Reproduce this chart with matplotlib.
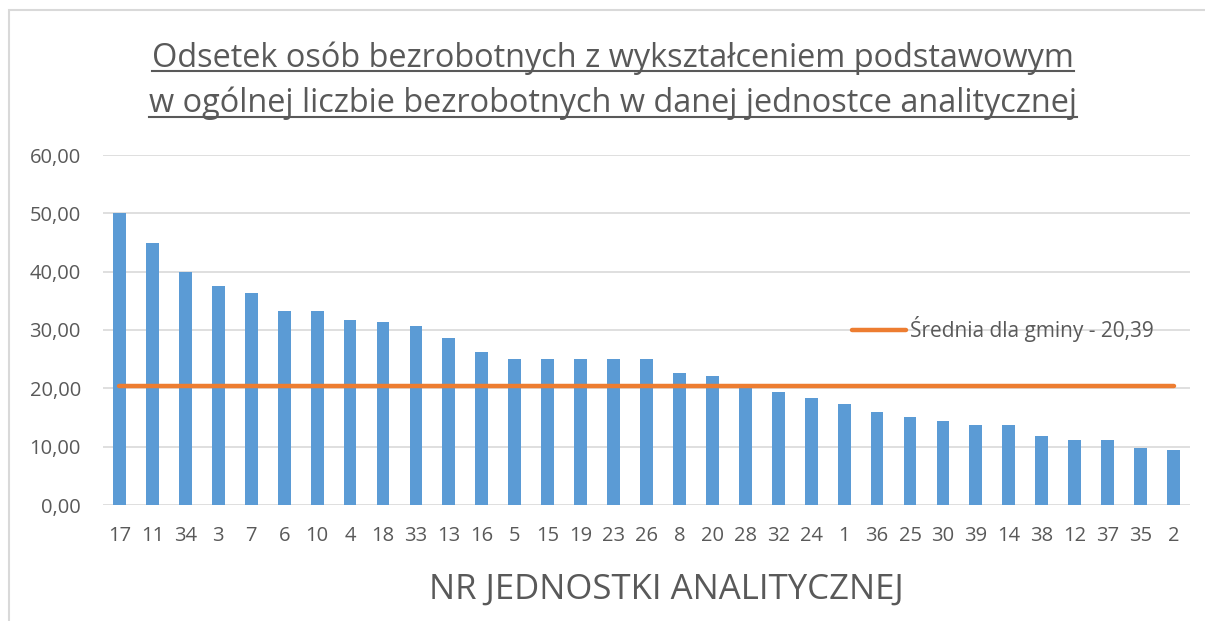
import matplotlib
matplotlib.use("Agg")
import matplotlib.pyplot as plt
from matplotlib.lines import Line2D
from matplotlib.patches import Rectangle

plt.rcParams['font.family'] = ['Open Sans', 'DejaVu Sans']

# numery jednostek analitycznych i odsetek bezrobotnych z wyksztalceniem podstawowym
units = ["17", "11", "34", "3", "7", "6", "10", "4", "18", "33", "13", "16",
         "5", "15", "19", "23", "26", "8", "20", "28", "32", "24", "1", "36",
         "25", "30", "39", "14", "38", "12", "37", "35", "2"]
values = [50.0, 45.0, 40.0, 37.5, 36.3, 33.3, 33.3, 31.7, 31.4, 30.7, 28.6, 26.2,
          25.0, 25.0, 25.0, 25.0, 25.0, 22.6, 22.1, 20.0, 19.3, 18.3, 17.3, 16.0,
          15.1, 14.4, 13.8, 13.7, 11.9, 11.2, 11.2, 9.7, 9.5]
average = 20.39
avg_label = "Średnia dla gminy - 20,39"
title_lines = ["Odsetek osób bezrobotnych z wykształceniem podstawowym",
               "w ogólnej liczbie bezrobotnych w danej jednostce analitycznej"]
x_label = "NR JEDNOSTKI ANALITYCZNEJ"

text_color = "#595959"
grid_color = "#D9D9D9"

W, H = 1205, 621
fig = plt.figure(figsize=(W / 100, H / 100), dpi=100)
ax = fig.add_axes([103 / W, 1 - 505 / H, (1190 - 103) / W, (505 - 155) / H])

x = list(range(len(units)))
ax.bar(x, values, width=0.39, color="#5B9BD5", zorder=2)
ax.plot(x, [average] * len(x), color="#ED7D31", lw=3.2,
        solid_capstyle="round", zorder=3, label=avg_label)

ax.set_xlim(-0.5, len(units) - 0.5)
ax.set_ylim(0, 60)
ax.set_yticks(range(0, 61, 10))
ax.set_yticklabels(["%d,00" % v for v in range(0, 61, 10)])
ax.set_xticks(x)
ax.set_xticklabels(units)
ax.tick_params(axis="both", length=0, labelsize=14.5, colors=text_color)
ax.tick_params(axis="x", pad=15)
ax.tick_params(axis="y", pad=16)
ax.grid(axis="y", color=grid_color, lw=1.2, zorder=0)
for s in ax.spines.values():
    s.set_visible(False)

leg = ax.legend(loc="center left", bbox_to_anchor=(0.689, 30.2 / 60),
                frameon=False, fontsize=15, handlelength=2.6,
                handletextpad=0.2, borderaxespad=0, borderpad=0)
for t in leg.get_texts():
    t.set_color(text_color)

# ramka wykresu (tylko lewa i gorna krawedz widoczna)
fig.patches.append(Rectangle((9 / W, -0.1), 1.2, 1 - 10 / H + 0.1,
                             transform=fig.transFigure, fill=False,
                             ec=grid_color, lw=1.5))

titles = []
for line, yb in zip(title_lines, [67, 112]):
    titles.append(fig.text(613 / W, 1 - yb / H, line, ha="center", va="baseline",
                           fontsize=23.4, color=text_color))

fig.text(666 / W, 1 - 590 / H, x_label, ha="center", va="center",
         fontsize=25, color=text_color)

# podkreslenie tytulu
fig.canvas.draw()
inv = fig.transFigure.inverted()
for t, yu in zip(titles, [71, 117]):
    bb = t.get_window_extent()
    x0, _ = inv.transform((bb.x0, 0))
    x1, _ = inv.transform((bb.x1, 0))
    fig.lines.append(Line2D([x0, x1], [1 - yu / H] * 2, transform=fig.transFigure,
                            color=text_color, lw=1.5))

fig.savefig("out.png", dpi=100)
